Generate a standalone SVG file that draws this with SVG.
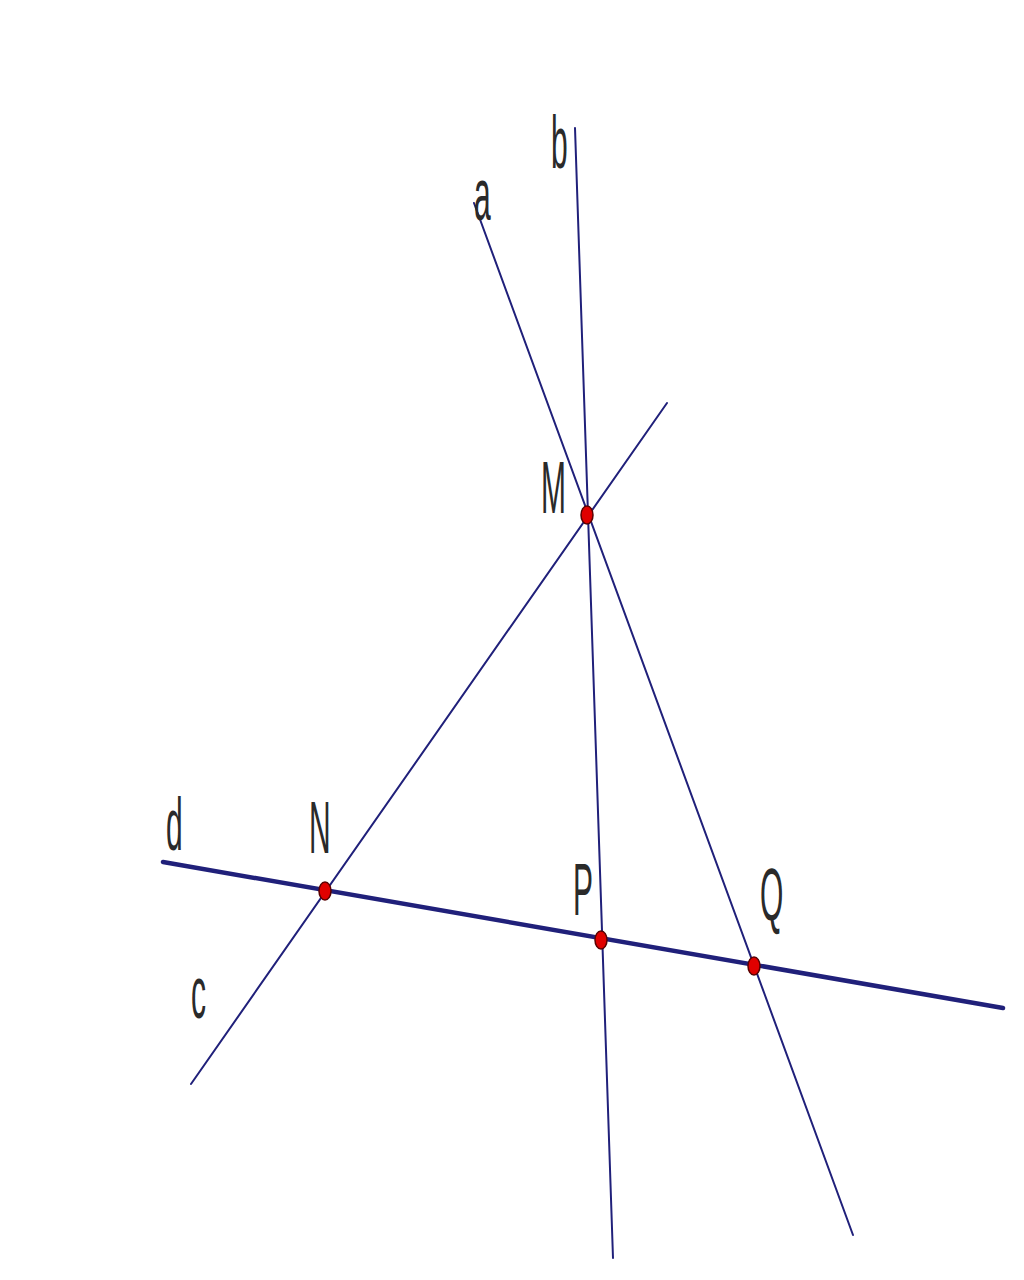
<svg xmlns="http://www.w3.org/2000/svg" width="1024" height="1280" viewBox="0 0 1024 1280">
<style>
.ln{stroke:#20207a;stroke-width:2;fill:none;stroke-linecap:round}
.thick{stroke-width:4.5}
.pt{fill:#e00000;stroke:#5a0000;stroke-width:1.5}
.lbl{font-family:"Liberation Sans",Arial,sans-serif;font-size:30px;fill:#2a2a2a}
</style>
<rect width="1024" height="1280" fill="#ffffff"/>
<g id="connectors">
<line id="line-a" class="ln" x1="474" y1="203" x2="853" y2="1235"/>
<line id="line-b" class="ln" x1="575" y1="128" x2="613" y2="1258"/>
<line id="line-c" class="ln" x1="667" y1="403" x2="191" y2="1084"/>
<line id="line-d" class="ln thick" x1="163" y1="862" x2="1003" y2="1008"/>
</g>
<g id="point-M"><ellipse class="pt" cx="587" cy="515" rx="6" ry="9"/><text class="lbl" transform="translate(541,513) scale(1,2.45)">M</text></g>
<g id="point-N"><ellipse class="pt" cx="325" cy="891" rx="6" ry="9"/><text class="lbl" transform="translate(309,853) scale(1,2.45)">N</text></g>
<g id="point-P"><ellipse class="pt" cx="601" cy="940" rx="6" ry="9"/><text class="lbl" transform="translate(573,915) scale(1,2.45)">P</text></g>
<g id="point-Q"><ellipse class="pt" cx="754" cy="966" rx="6" ry="9"/><text class="lbl" transform="translate(760,920) scale(1,2.45)">Q</text></g>
<g id="label-a"><text class="lbl" transform="translate(474,220) scale(1,2.45)">a</text></g>
<g id="label-b"><text class="lbl" transform="translate(551,168) scale(1,2.45)">b</text></g>
<g id="label-c"><text class="lbl" transform="translate(191,1018) scale(1,2.45)">c</text></g>
<g id="label-d"><text class="lbl" transform="translate(166,850) scale(1,2.45)">d</text></g>
</svg>
